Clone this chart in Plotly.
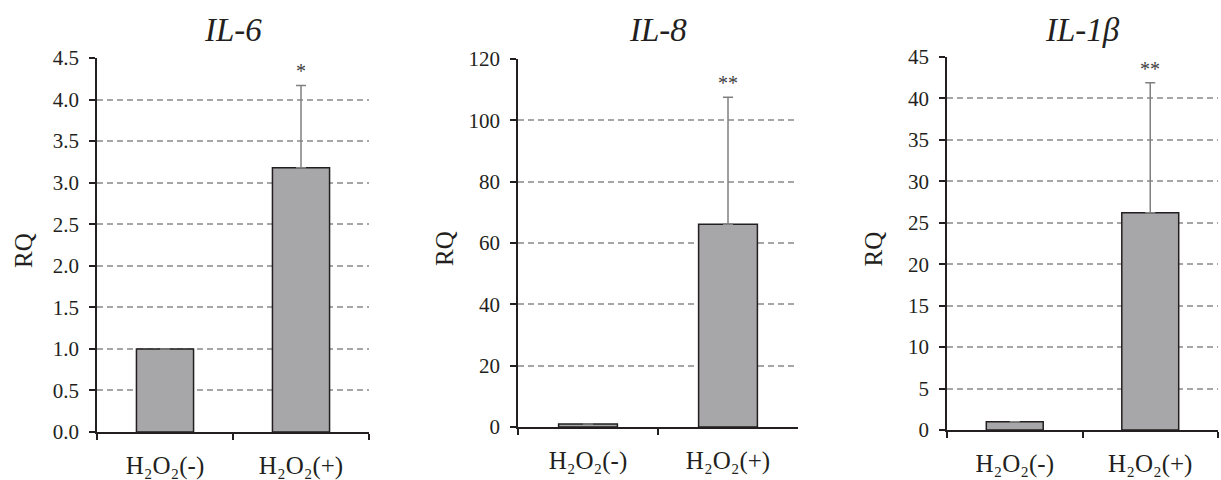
import plotly.graph_objects as go

# Relative expression (RQ) of inflammatory cytokines with/without H2O2
groups = ["H₂O₂(-)", "H₂O₂(+)"]
genes = ["IL-6", "IL-8", "IL-1β"]
rq_il6 = [1.0, 3.18]
sd_il6 = [0.0, 0.99]
rq_il8 = [1.0, 66.1]
sd_il8 = [0.0, 41.4]
rq_il1b = [1.0, 26.2]
sd_il1b = [0.0, 15.7]
marks = [["", "*"], ["", "**"], ["", "**"]]
y_max = [4.5, 120, 45]
y_step = [0.5, 20, 5]
y_fmt = [".1f", "d", "d"]

values = [rq_il6, rq_il8, rq_il1b]
errors = [sd_il6, sd_il8, sd_il1b]

W, H = 1221, 480
# panel placement in pixels: (x_left, x_right, y_zero, y_top)
panels = [(97, 369, 432, 58), (518, 798, 427, 59), (947, 1218, 430, 57)]

FONT = "Liberation Serif, Times New Roman, serif"
INK = "#231F20"

fig = go.Figure()
annotations = []
for i in range(3):
    xa = "x" if i == 0 else f"x{i+1}"
    ya = "y" if i == 0 else f"y{i+1}"
    fig.add_trace(go.Bar(
        x=groups, y=values[i], xaxis=xa, yaxis=ya, width=0.42,
        marker=dict(color="#A7A6A9", line=dict(color=INK, width=1.5)),
        error_y=dict(type="data", symmetric=False, array=errors[i],
                     arrayminus=[0, 0], color="#808080", thickness=1.5, width=5),
        showlegend=False, hoverinfo="skip",
    ))
    x0, x1, yz, yt = panels[i]
    dom_x = [x0 / W, x1 / W]
    dom_y = [(H - yz) / H, (H - yt) / H]
    key = "" if i == 0 else str(i + 1)
    fig.update_layout(**{
        f"xaxis{key}": dict(
            domain=dom_x, anchor=ya, type="category", range=[-0.5, 1.5],
            tickson="boundaries", ticks="outside", ticklen=6, tickwidth=1.5,
            tickcolor=INK, showline=True, linecolor=INK, linewidth=1.5,
            showgrid=False, ticklabelstandoff=10, automargin=False,
            tickfont=dict(family=FONT, size=25, color=INK),
        ),
        f"yaxis{key}": dict(
            domain=dom_y, anchor=xa, range=[0, y_max[i]], dtick=y_step[i],
            tick0=0, tickformat=y_fmt[i], ticks="outside", ticklen=6,
            tickwidth=1.5, tickcolor=INK, showline=True, linecolor=INK,
            linewidth=1.5, showgrid=True, gridcolor="#A6A6A6", gridwidth=1.5,
            griddash="6px,4px", zeroline=False, ticklabelstandoff=6,
            automargin=False,
            tickfont=dict(family=FONT, size=21, color=INK),
        ),
    })
    # gene name title
    annotations.append(dict(
        text=f"<i>{genes[i]}</i>", xref="paper", yref="paper",
        x=(x0 + x1) / 2 / W, y=(H - 30) / H, xanchor="center", yanchor="middle",
        showarrow=False, font=dict(family=FONT, size=33, color=INK),
    ))
    # y-axis title
    annotations.append(dict(
        text="RQ", xref="paper", yref="paper", textangle=-90,
        x=(x0 - 74) / W, y=(H - (yz + yt) / 2 - 6) / H,
        xanchor="center", yanchor="middle", showarrow=False,
        font=dict(family=FONT, size=25, color=INK),
    ))
    # significance marks above error bars
    for j, m in enumerate(marks[i]):
        if m:
            annotations.append(dict(
                text=m, xref=xa, yref=ya, x=groups[j],
                y=values[i][j] + errors[i][j], yanchor="bottom", yshift=1,
                showarrow=False, font=dict(family=FONT, size=20, color="#404040"),
            ))

fig.update_layout(
    width=W, height=H, margin=dict(l=0, r=0, t=0, b=0),
    plot_bgcolor="white", paper_bgcolor="white",
    font=dict(family=FONT),
    annotations=annotations, bargap=0.58,
)
fig.write_html("out.html")
